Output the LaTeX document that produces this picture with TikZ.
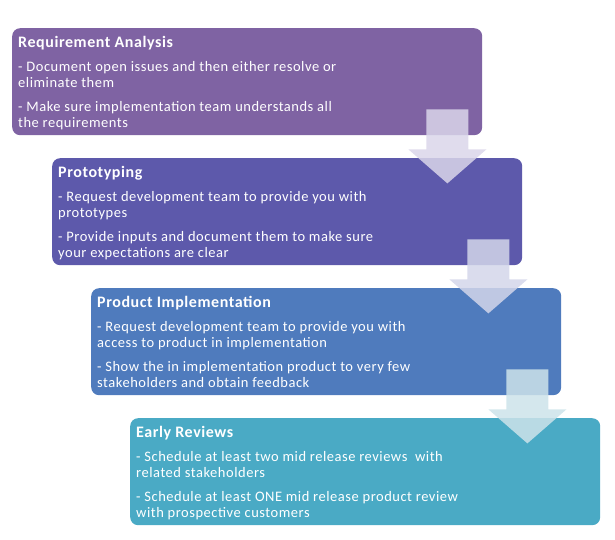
\documentclass[tikz,border=0pt]{standalone}
\usepackage{fontspec}
\setmainfont{Carlito}[LetterSpace=3.6]
\usetikzlibrary{calc}
\definecolor{cA}{HTML}{7F63A3}
\definecolor{cB}{HTML}{5D59AB}
\definecolor{cC}{HTML}{4F7BBD}
\definecolor{cD}{HTML}{4AAAC5}
\definecolor{aA}{HTML}{DAD6EA}
\definecolor{aB}{HTML}{D3D6EA}
\definecolor{aC}{HTML}{CDE3EA}
\tikzset{
  box/.style={rounded corners=8pt, minimum width=470pt, minimum height=107pt, anchor=north west, inner sep=0pt},
  txt/.style={anchor=north west, align=left, text=white, inner sep=0pt, font=\fontsize{14.5}{16}\selectfont},
  arr/.style={opacity=0.85},
}
\newcommand\ttl[1]{{\fontsize{16}{16}\selectfont\bfseries #1}\\[8pt]}
\newcommand\dnarr[2]{\fill[arr,fill=#2] (#1) ++(-21,0) -- ++(42,0) -- ++(0,40) -- ++(18,0) -- ++(-39,34) -- ++(-39,-34) -- ++(18,0) -- cycle;}
\begin{document}
\begin{tikzpicture}[x=1pt,y=-1pt]
\useasboundingbox (0,0) rectangle (615,540);
\node[box,fill=cA] (b1) at (12,28) {};
\node[box,fill=cB] (b2) at (52,158) {};
\node[box,fill=cC] (b3) at (91,288) {};
\node[box,fill=cD] (b4) at (130,418) {};
\node[txt] (t1) at ($(b1.north west)+(6,8.5)$) {\ttl{Requirement Analysis}- Document open issues and then either resolve or\\eliminate them\\[8pt]- Make sure implementation team understands all\\the requirements};
\node[txt] (t2) at ($(b2.north west)+(6,8.5)$) {\ttl{Prototyping}- Request development team to provide you with\\prototypes\\[8pt]- Provide inputs and document them to make sure\\your expectations are clear};
\node[txt] (t3) at ($(b3.north west)+(6,8.5)$) {\ttl{Product Implementation}- Request development team to provide you with\\access to product in implementation\\[8pt]- Show the in implementation product to very few\\stakeholders and obtain feedback};
\node[txt] (t4) at ($(b4.north west)+(6,8.5)$) {\ttl{Early Reviews}- Schedule at least two mid release reviews\ \ with\\related stakeholders\\[8pt]- Schedule at least ONE mid release product review\\with prospective customers};
\coordinate (a1) at ($(b1.south east)+(-35,-26)$);
\coordinate (a2) at ($(b2.south east)+(-34,-26)$);
\coordinate (a3) at ($(b3.south east)+(-34,-26)$);
\dnarr{a1}{aA}
\dnarr{a2}{aB}
\dnarr{a3}{aC}
\end{tikzpicture}
\end{document}
